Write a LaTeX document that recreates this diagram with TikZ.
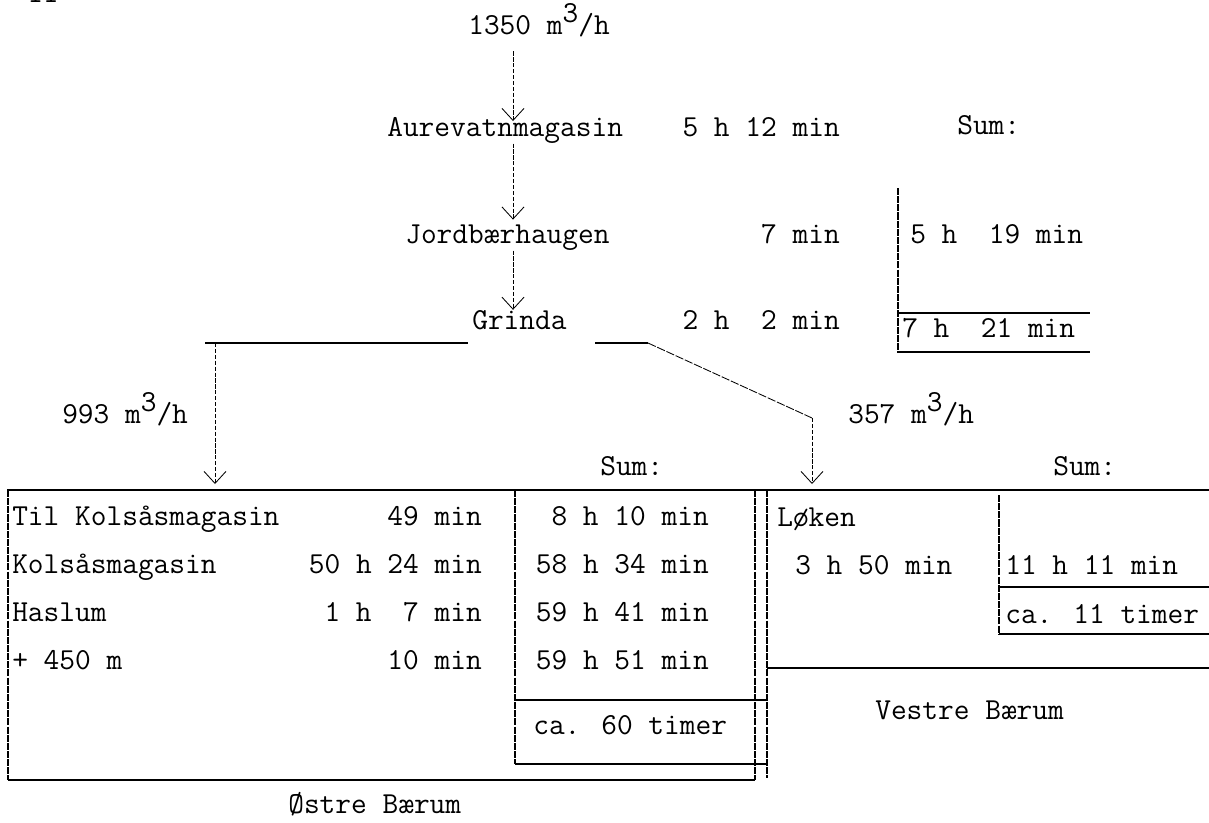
\documentclass[tikz,border=0pt]{standalone}
\usetikzlibrary{arrows.meta}

\tikzset{
  txt/.style={inner sep=0pt, text height=1.6ex, text depth=.4ex},
  flow/.style={dash pattern=on 3pt off 1.2pt, line width=0.6pt, -{Straight Barb[length=3mm,width=5.5mm]}},
  rule/.style={line width=1.2pt},
  vrule/.style={line width=0.8pt, dash pattern=on 5pt off 0.8pt}
}
\newcommand{\cubic}{\raisebox{0.4em}{3}}

\begin{document}
\begin{tikzpicture}[x=0.025cm, y=-0.025cm, font=\fontsize{21.7}{26}\selectfont\ttfamily]

% ---------- page (measured from source, px, y downwards) ----------
\useasboundingbox (0,0) rectangle (1209,822);
\fill[white] (0,0) rectangle (1209,822);
\coordinate (spine) at (513,0);

% ---------- page number, cut off at the top ----------
\node[inner sep=0pt, anchor=base west] (pagenr) at (27,3) {11};

% ---------- main line ----------
\node[txt, anchor=west] (inflow) at (468,31) {1350 m\cubic/h};
\node[txt, anchor=west] (aure)   at (387,133) {Aurevatnmagasin};
\node[txt, anchor=east] (aureT)  at (840,133) {5 h 12 min};
\node[txt, anchor=west] (sumtop) at (957,131) {Sum:};
\node[txt, anchor=west] (jord)   at (405,240) {Jordbærhaugen};
\node[txt, anchor=east] (jordT)  at (840,240) {7 min};
\node[txt, anchor=west] (grinda) at (472,326) {Grinda};
\node[txt, anchor=east] (grindaT) at (840,326) {2 h\ \ 2 min};

\draw[flow, shorten <=10pt, shorten >=4pt] (inflow.south -| spine) -- (aure.north -| spine);
\draw[flow, shorten <=3pt, shorten >=10pt] (aure.south -| spine) -- (jord.north -| spine);
\draw[flow, shorten <=3pt, shorten >=7pt] (jord.south -| spine) -- (grinda.north -| spine);

% ---------- sum, upper part ----------
\node[txt, anchor=west] (sumjord)   at (910,240) {5 h\ \ 19 min};
\node[txt, anchor=west] (sumgrinda) at (902,334) {7 h\ \ 21 min};
\draw[vrule] (898,188) -- (898,353);
\draw[rule] (898,313) -- (1090,313);
\draw[rule] (898,352) -- (1090,352);

% ---------- split at Grinda ----------
\coordinate (lsplit) at (215,343);
\coordinate (rsplit) at (648,343);
\coordinate (rbend)  at (812,418);
\coordinate (otop)   at (215,484);
\coordinate (vtop)   at (812,484);
\draw[rule] (205,343) -- (468,343);
\draw[rule] (595,343) -- (rsplit);
\draw[flow] (lsplit) -- (otop);
\draw[dash pattern=on 6pt off 1.2pt, line width=0.6pt] (rsplit) -- (rbend);
\draw[flow] (rbend) -- (vtop);
\node[txt, anchor=west] (qost)  at (62,420) {993 m\cubic/h};
\node[txt, anchor=west] (qvest) at (848,420) {357 m\cubic/h};

% ---------- the boxes ----------
\draw[rule] (7,490) -- (1209,490);
\draw[vrule] (8,490) -- (8,780);
\draw[rule] (8,780) -- (755,780);
\draw[vrule] (515,490) -- (515,764);
\draw[rule] (515,700) -- (767,700);
\draw[rule] (515,764) -- (767,764);
\draw[vrule] (755,490) -- (755,780);
\draw[vrule] (767,490) -- (767,778);
\draw[rule] (767,668) -- (1209,668);
\draw[vrule] (999,495) -- (999,635);
\draw[rule] (999,587) -- (1209,587);
\draw[rule] (999,634) -- (1209,634);

% ---------- Østre Bærum ----------
\node[txt, anchor=west] (sumost) at (600,472) {Sum:};
\node[txt, anchor=west] (tilkol) at (12,522) {Til Kolsåsmagasin};
\node[txt, anchor=west] (kol)    at (12,570) {Kolsåsmagasin};
\node[txt, anchor=west] (haslum) at (12,618) {Haslum};
\node[txt, anchor=west] (extra)  at (12,666) {+ 450 m};
\node[txt, anchor=east] (tilkolT) at (482,522) {49 min};
\node[txt, anchor=east] (kolT)    at (482,570) {50 h 24 min};
\node[txt, anchor=east] (haslumT) at (482,618) {1 h\ \ 7 min};
\node[txt, anchor=east] (extraT)  at (482,666) {10 min};
\node[txt, anchor=east] (tilkolS) at (709,522) {8 h 10 min};
\node[txt, anchor=east] (kolS)    at (709,570) {58 h 34 min};
\node[txt, anchor=east] (haslumS) at (709,618) {59 h 41 min};
\node[txt, anchor=east] (extraS)  at (709,666) {59 h 51 min};
\node[txt, anchor=west] (ostca)   at (533,731) {ca. 60 timer};
\node[txt, anchor=west] (ostname) at (288,810) {Østre Bærum};

% ---------- Vestre Bærum ----------
\node[txt, anchor=west] (sumvest) at (1053,472) {Sum:};
\node[txt, anchor=west] (loken)   at (777,523) {Løken};
\node[txt, anchor=west] (lokenT)  at (795,571) {3 h 50 min};
\node[txt, anchor=west] (lokenS)  at (1005,571) {11 h 11 min};
\node[txt, anchor=west] (vestca)  at (1005,620) {ca. 11 timer};
\node[txt, anchor=west] (vestname) at (875,716) {Vestre Bærum};

\end{tikzpicture}
\end{document}
